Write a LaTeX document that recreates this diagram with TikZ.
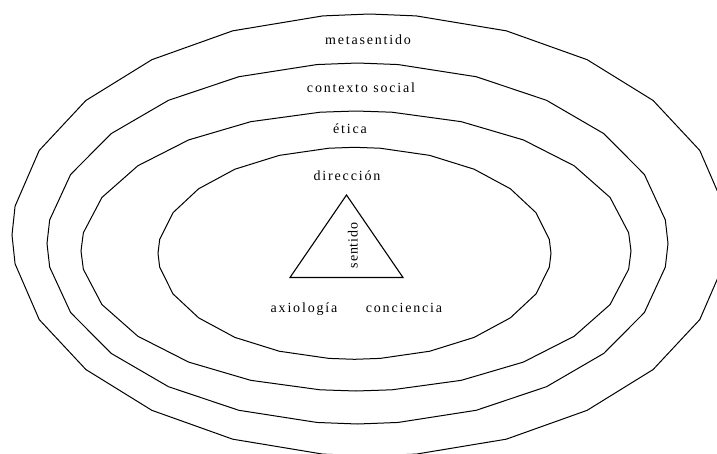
\documentclass[tikz,border=0pt]{standalone}
\usepackage{fontspec}
\setmainfont{Liberation Serif}
\newcommand\ringpoly[5]{%
  \draw[ringline] ({#1+#3},#2) \foreach \t in {7.5,22.5,37.5,52.5,67.5,82.5,90,97.5,112.5,127.5,142.5,157.5,172.5,180,187.5,202.5,217.5,232.5,247.5,262.5,270,277.5,292.5,307.5,322.5,337.5,352.5} { -- ({#1+#3*cos(\t)},{#2-#4*sin(\t)}) } -- cycle;
}
\begin{document}
\begin{tikzpicture}[x=1pt,y=-1pt,
  ringline/.style={line width=1pt, line join=miter},
  lab/.style={inner sep=0pt, anchor=base, font=\fontsize{14}{16}\selectfont\addfontfeature{LetterSpace=13}},
  tri/.style={line width=1.1pt, line join=miter}]
\fill[white] (0,0) rectangle (717,453);
\useasboundingbox (0,0) rectangle (717,453);
\clip (0,0) rectangle (717,453);
% rings
\ringpoly{369.5}{235}{357.5}{221}{A}
\ringpoly{357.5}{243.5}{310.5}{180.5}{B}
\ringpoly{356}{251}{275}{140}{C}
\ringpoly{354.5}{253.3}{196.5}{106}{D}
% labels
\node[lab] (meta) at (368,44) {metasentido};
\node[lab] (ctx) at (361,92.3) {contexto social};
\node[lab] (etica) at (350,133.3) {ética};
\node[lab] (dir) at (347,180) {dirección};
\node[lab] (axio) at (304,312) {axiología};
\node[lab] (conc) at (404,312) {conciencia};
% triangle
\coordinate (tl) at (290,277.5);
\coordinate (tr) at (403,277.5);
\coordinate (tt) at (346.5,195);
\draw[tri] (tl) -- (tr) -- (tt) -- cycle;
\node[inner sep=0pt, anchor=base, rotate=90, font=\fontsize{14}{16}\selectfont\addfontfeature{LetterSpace=6}] (sent) at (357.5,245.5) {sentido};
\end{tikzpicture}
\end{document}
